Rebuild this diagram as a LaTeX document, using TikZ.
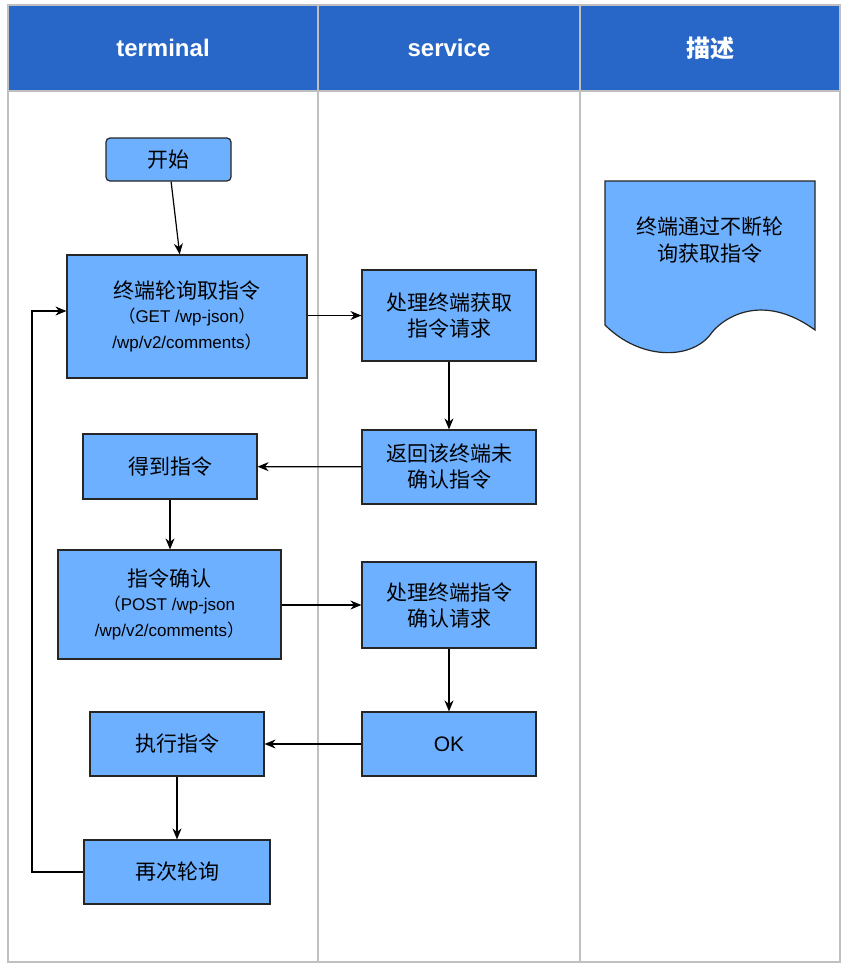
\documentclass[tikz,border=0pt]{standalone}
\usepackage{fontspec}
\setmainfont{Liberation Sans}
\newfontfamily\cjk{Noto Sans CJK SC}
\usetikzlibrary{arrows.meta}
\definecolor{hdr}{HTML}{2866C8}
\definecolor{boxf}{HTML}{6CB0FF}
\definecolor{grid}{HTML}{C0C0C0}
\newcommand{\smalltxt}[1]{{\normalfont\fontsize{17}{24}\selectfont{\cjk （}#1{\cjk ）}}}
\begin{document}
\begin{tikzpicture}[x=1pt,y=-1pt,
  bx/.style={draw=black!85,line width=1.2pt,fill=boxf,align=center,font=\fontsize{21}{26}\selectfont\cjk},
  arr/.style={-{Stealth[length=11pt,width=9pt]},line width=1.2pt}]
\useasboundingbox (0,0) rectangle (848,969);
\fill[white] (0,0) rectangle (848,969);
\fill[hdr] (8,5) rectangle (840,91);
\draw[grid,line width=1.2pt] (8,5) rectangle (840,962);
\draw[grid,line width=1.2pt] (318,5) -- (318,962) (580,5) -- (580,962) (8,91) -- (840,91);
\node[white,font=\fontsize{24}{28}\selectfont\bfseries] (h1) at (163,48) {terminal};
\node[white,font=\fontsize{24}{28}\selectfont\bfseries] (h2) at (449,48) {service};
\node[white,font=\fontsize{24}{28}\selectfont\bfseries\cjk] (h3) at (710,48) {描述};
\node[bx,rounded corners=4pt,minimum width=125pt,minimum height=43pt] (start) at (168.5,159.5) {开始};
\node[bx,minimum width=240pt,minimum height=123pt] (poll) at (187,316.5) {终端轮询取指令\\[-2pt]\smalltxt{GET /wp-json}\\{\normalfont\fontsize{17}{24}\selectfont /wp/v2/comments}{\cjk\fontsize{17}{24}\selectfont ）}};
\node[bx,minimum width=174pt,minimum height=91pt] (s1) at (449,315.5) {处理终端获取\\指令请求};
\node[bx,minimum width=174pt,minimum height=74pt] (s2) at (449,467) {返回该终端未\\确认指令};
\node[bx,minimum width=174pt,minimum height=65pt] (get) at (170,466.5) {得到指令};
\node[bx,minimum width=223pt,minimum height=109pt] (conf) at (169.5,604.5) {指令确认\\[-2pt]{\cjk\fontsize{17}{24}\selectfont （}{\normalfont\fontsize{17}{24}\selectfont POST /wp-json}\\{\normalfont\fontsize{17}{24}\selectfont /wp/v2/comments}{\cjk\fontsize{17}{24}\selectfont ）}};
\node[bx,minimum width=174pt,minimum height=86pt] (s3) at (449,605) {处理终端指令\\确认请求};
\node[bx,minimum width=174pt,minimum height=64pt] (ok) at (449,744) {\normalfont\fontsize{21}{26}\selectfont OK};
\node[bx,minimum width=174pt,minimum height=64pt] (exec) at (177,744) {执行指令};
\node[bx,minimum width=186pt,minimum height=64pt] (again) at (177,872) {再次轮询};
\coordinate (l1) at (32,872);
\coordinate (l2) at (32,311);
\draw[arr] (start) -- (poll);
\draw[arr] (poll.east|-s1) -- (s1);
\draw[arr] (s1) -- (s2);
\draw[arr] (s2) -- (get);
\draw[arr] (get) -- (get|-conf.north);
\draw[arr] (conf.east|-s3) -- (s3);
\draw[arr] (s3) -- (ok);
\draw[arr] (ok) -- (exec);
\draw[arr] (exec) -- (again);
\draw[arr] (again.west) -- (l1) -- (l2) -- (poll.west|-l2);
\draw[draw=black!85,line width=1.2pt,fill=boxf] (605,181) -- (815,181) -- (815,330)
  .. controls (760,290) and (720,320) .. (710,335) .. controls (690,360) and (640,360) .. (605,325) -- cycle;
\node[font=\fontsize{21}{27}\selectfont\cjk,align=center] (desc) at (710,240) {终端通过不断轮\\询获取指令};
\end{tikzpicture}
\end{document}
